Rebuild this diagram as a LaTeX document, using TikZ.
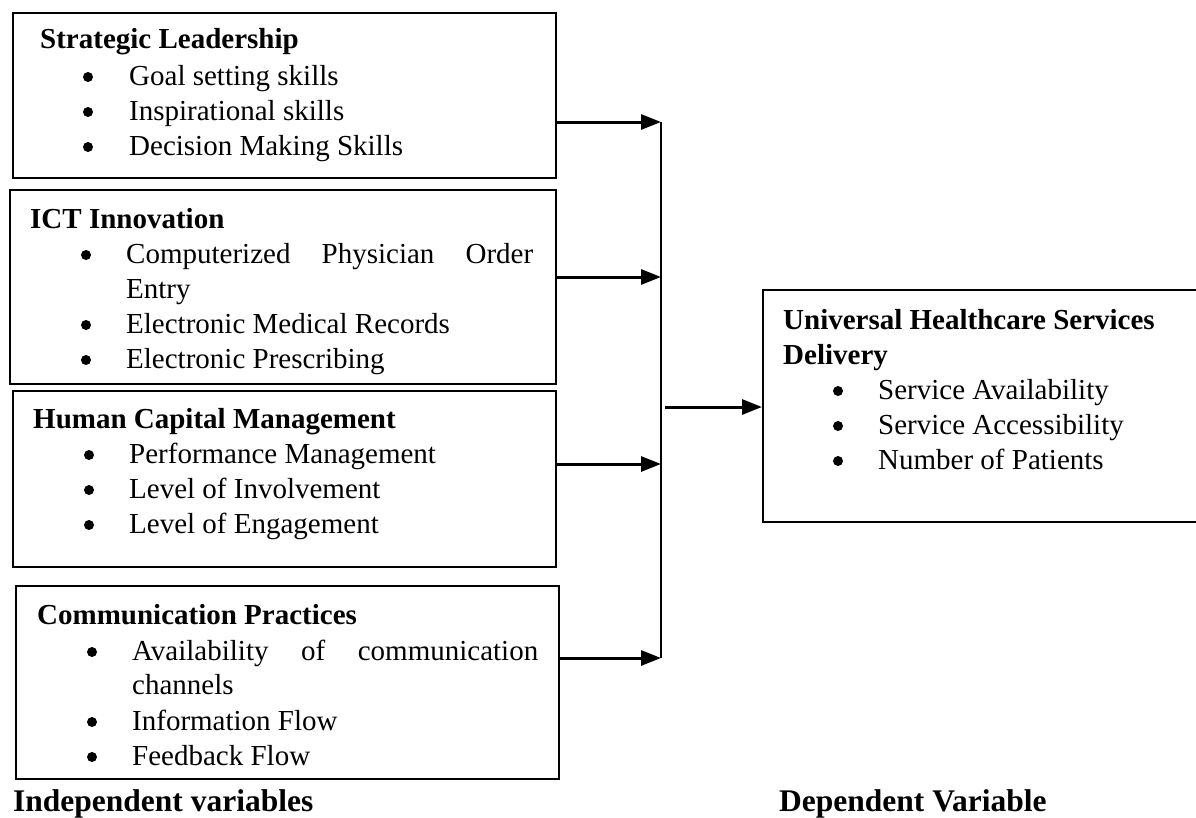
\documentclass[tikz,border=0pt]{standalone}
\usepackage{fontspec}
\setmainfont{Liberation Serif}
\usetikzlibrary{arrows.meta}
\begin{document}
\begin{tikzpicture}[x=1pt,y=-1pt,
  box/.style={draw, line width=2pt, anchor=north west, inner sep=0pt},
  txt/.style={anchor=base west, inner sep=0pt, font=\fontsize{29}{35}\selectfont},
  hd/.style={anchor=base west, inner sep=0pt, font=\fontsize{29}{35}\selectfont\bfseries},
  bul/.style={circle, fill=black, inner sep=0pt, minimum size=10pt},
  foot/.style={anchor=base west, inner sep=0pt, font=\fontsize{31.5}{38}\selectfont\bfseries},
  arr/.style={line width=3pt, -{Triangle[length=20pt,width=15pt]}},
  bus/.style={line width=2pt},
  ]
\useasboundingbox (0,0) rectangle (1196,817);

% independent variable boxes
\node[box, minimum width=543pt, minimum height=165pt] (sl) at (12,12) {};
\node[box, minimum width=546pt, minimum height=194pt] (ict) at (9,189) {};
\node[box, minimum width=543pt, minimum height=176pt] (hcm) at (12,390) {};
\node[box, minimum width=543pt, minimum height=193pt] (cp) at (15,585) {};
% dependent variable box
\node[box, minimum width=434pt, minimum height=232pt] (uhc) at (762,289) {};

% Strategic Leadership
\node[hd] (slh) at (40,48) {Strategic Leadership};
\node[bul] (slb1) at (88,77) {};
\node[txt] (slt1) at (129,85) {Goal setting skills};
\node[bul] (slb2) at (88,112) {};
\node[txt] (slt2) at (129,120) {Inspirational skills};
\node[bul] (slb3) at (88,147) {};
\node[txt] (slt3) at (129,155) {Decision Making Skills};

% ICT Innovation
\node[hd] (icth) at (30,228) {ICT Innovation};
\node[bul] (ictb1) at (86,255) {};
\node[txt] (ictt1) at (126,263) {\hbox to 407pt{Computerized\hfill Physician\hfill Order}};
\node[txt] (ictt1b) at (126,298) {Entry};
\node[bul] (ictb2) at (86,325) {};
\node[txt] (ictt2) at (126,333) {Electronic Medical Records};
\node[bul] (ictb3) at (86,360) {};
\node[txt] (ictt3) at (126,368) {Electronic Prescribing};

% Human Capital Management
\node[hd] (hcmh) at (33,428) {Human Capital Management};
\node[bul] (hcmb1) at (89,455) {};
\node[txt] (hcmt1) at (129,463) {Performance Management};
\node[bul] (hcmb2) at (89,490) {};
\node[txt] (hcmt2) at (129,498) {Level of Involvement};
\node[bul] (hcmb3) at (89,525) {};
\node[txt] (hcmt3) at (129,533) {Level of Engagement};

% Communication Practices
\node[hd] (cph) at (37,624) {Communication Practices};
\node[bul] (cpb1) at (92,652) {};
\node[txt] (cpt1) at (132,660) {\hbox to 406pt{Availability\hfill of\hfill communication}};
\node[txt] (cpt1b) at (132,694) {channels};
\node[bul] (cpb2) at (92,722) {};
\node[txt] (cpt2) at (132,730) {Information Flow};
\node[bul] (cpb3) at (92,757) {};
\node[txt] (cpt3) at (132,765) {Feedback Flow};

% Universal Healthcare Services Delivery
\node[hd] (uhch1) at (783,329) {Universal Healthcare Services};
\node[hd] (uhch2) at (783,364) {Delivery};
\node[bul] (uhcb1) at (838,391) {};
\node[txt] (uhct1) at (878,399) {Service Availability};
\node[bul] (uhcb2) at (838,426) {};
\node[txt] (uhct2) at (878,434) {Service Accessibility};
\node[bul] (uhcb3) at (838,461) {};
\node[txt] (uhct3) at (878,469) {Number of Patients};

% captions
\node[foot] (iv) at (13,811) {Independent variables};
\node[foot] (dv) at (779,811) {Dependent Variable};

% connectors
\coordinate (j1) at (661,122);
\coordinate (j2) at (661,277);
\coordinate (j3) at (661,464);
\coordinate (j4) at (661,658);
\coordinate (m) at (665,407);
\draw[arr] (sl.east |- j1) -- (j1);
\draw[arr] (ict.east |- j2) -- (j2);
\draw[arr] (hcm.east |- j3) -- (j3);
\draw[arr] (cp.east |- j4) -- (j4);
\draw[bus] (j1) -- (j4);
\draw[arr] (m) -- (uhc.west |- m);
\end{tikzpicture}
\end{document}
